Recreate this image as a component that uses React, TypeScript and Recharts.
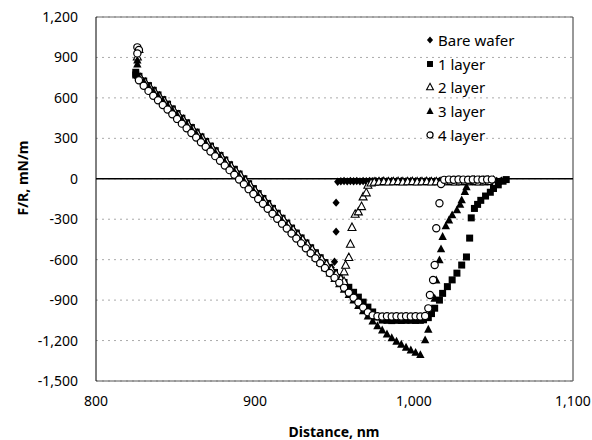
import React from 'react';
import { ScatterChart, Scatter, XAxis, YAxis, CartesianGrid, ReferenceLine, Legend } from 'recharts';

const xTicks = [800, 900, 1000, 1100];
const yTicks = [-1500, -1200, -900, -600, -300, 0, 300, 600, 900, 1200];
const seriesNames = ['Bare wafer', '1 layer', '2 layer', '3 layer', '4 layer'];

const bareWafer: [number, number][] = [
  [825,760],[828,745],[831,711],[834,676],[837,642],[840,607],[843,573],[846,538],[849,504],[852,469],[855,435],[858,400],[861,366],[864,331],[867,297],[870,262],[873,228],[876,193],[879,159],[882,124],[885,90],[888,55],[891,21],[894,-14],[897,-50],[900,-87],[903,-123],[906,-160],[909,-196],[912,-233],[915,-270],[918,-306],[921,-343],[924,-379],[927,-416],[930,-452],[933,-489],[936,-526],[939,-562],[942,-599],[945,-635],[948,-660],[950,-615],[951,-392],[951,-177],[952,-22],[954,-18],[956,-17],[958,-19],[960,-16],[962,-18],[964,-17],[966,-19],[968,-16],[970,-18],[972,-17],[974,-18],[976,-16],[978,-18],[980,-17],[983,-18],[986,-16],[989,-18],[992,-17],[995,-18],[998,-16],[1001,-18],[1004,-17],[1007,-18],[1010,-16],[1013,-18],[1016,-17],[1019,-18],[1022,-16],[1025,-17],[1028,-18],[1031,-16],[1034,-17],[1037,-18],[1040,-16],[1043,-17],[1046,-18],[1049,-16],[1052,-17],[1055,-15]
];

const layer1: [number, number][] = [
  [825,790],[825,770],[827,760],[830,725],[833,691],[836,656],[839,622],[842,587],[845,553],[848,518],[851,484],[854,449],[857,415],[860,380],[863,346],[866,311],[869,277],[872,242],[875,208],[878,173],[881,139],[884,104],[887,70],[890,35],[893,0],[896,-37],[899,-73],[902,-110],[905,-146],[908,-183],[911,-220],[914,-256],[917,-293],[920,-329],[923,-366],[926,-403],[929,-439],[932,-476],[935,-512],[938,-549],[941,-586],[944,-622],[947,-659],[950,-695],[953,-732],[956,-769],[959,-805],[962,-842],[965,-878],[968,-915],[971,-952],[974,-988],[977,-1025],[980,-1048],[983,-1050],[986,-1052],[989,-1050],[992,-1051],[995,-1050],[998,-1050],[1001,-1051],[1004,-1050],[1006,-1046],[1009,-1030],[1011,-1000],[1013,-960],[1016,-900],[1018,-850],[1021,-800],[1024,-750],[1027,-700],[1030,-640],[1033,-580],[1035,-440],[1036,-290],[1038,-220],[1040,-190],[1042,-160],[1045,-128],[1048,-100],[1050,-72],[1053,-45],[1056,-18],[1058,-6]
];

const layer2: [number, number][] = [
  [827,960],[826,905],[828,750],[831,716],[834,681],[837,647],[840,612],[843,578],[846,543],[849,509],[852,474],[855,440],[858,405],[861,371],[864,336],[867,302],[870,267],[873,233],[876,198],[879,164],[882,129],[885,95],[888,60],[891,26],[894,-11],[897,-47],[900,-84],[903,-120],[906,-157],[909,-194],[912,-230],[915,-267],[918,-303],[921,-340],[924,-377],[927,-413],[930,-450],[933,-486],[936,-523],[939,-560],[942,-596],[945,-633],[948,-669],[951,-706],[954,-742],[956,-760],[956,-689],[957,-640],[959,-583],[960,-484],[961,-360],[963,-262],[965,-244],[967,-205],[968,-133],[970,-103],[971,-46],[973,-30],[975,-24],[978,-22],[981,-20],[984,-22],[987,-21],[990,-20],[993,-22],[996,-21],[999,-20],[1002,-22],[1005,-21],[1008,-20],[1011,-22],[1014,-21],[1017,-20],[1020,-21],[1023,-20],[1026,-22],[1029,-21],[1032,-20],[1035,-21],[1038,-20],[1041,-22],[1044,-21],[1047,-20]
];

const layer3: [number, number][] = [
  [826,880],[826,850],[827,755],[830,720],[833,685],[836,650],[839,615],[842,580],[845,545],[848,510],[851,475],[854,440],[857,405],[860,370],[863,335],[866,300],[869,265],[872,230],[875,195],[878,160],[881,125],[884,90],[887,55],[890,20],[893,-15],[896,-52],[899,-89],[902,-126],[905,-163],[908,-200],[911,-238],[914,-276],[917,-314],[920,-352],[923,-390],[926,-428],[929,-466],[932,-505],[935,-544],[938,-583],[941,-622],[944,-661],[947,-700],[950,-740],[953,-780],[956,-820],[959,-860],[962,-900],[965,-940],[968,-980],[971,-1018],[974,-1055],[977,-1090],[980,-1122],[983,-1152],[986,-1180],[989,-1205],[992,-1228],[995,-1250],[998,-1270],[1001,-1288],[1004,-1305],[1007,-1195],[1009,-1116],[1013,-887],[1014,-751],[1016,-602],[1017,-520],[1018,-429],[1020,-350],[1022,-306],[1024,-268],[1027,-231],[1029,-190],[1030,-157],[1032,-95],[1033,-60],[1035,-12],[1038,-6],[1041,-5],[1044,-6],[1047,-5],[1050,-6]
];

const layer4: [number, number][] = [
  [826,975],[827,955],[826,930],[827,730],[830,690],[833,652],[836,616],[839,582],[842,547],[845,513],[848,478],[851,444],[854,409],[857,375],[860,340],[863,306],[866,271],[869,237],[872,202],[875,168],[878,133],[881,99],[884,64],[887,30],[890,-5],[893,-40],[896,-77],[899,-113],[902,-150],[905,-186],[908,-223],[911,-260],[914,-296],[917,-333],[920,-369],[923,-406],[926,-443],[929,-479],[932,-516],[935,-552],[938,-589],[941,-626],[944,-662],[947,-699],[950,-735],[953,-772],[956,-809],[959,-845],[962,-882],[965,-918],[968,-955],[971,-990],[974,-1012],[977,-1020],[980,-1022],[983,-1020],[986,-1021],[989,-1020],[992,-1022],[995,-1020],[998,-1021],[1001,-1020],[1004,-1021],[1007,-1018],[1009,-961],[1010,-862],[1012,-751],[1013,-640],[1014,-367],[1016,-182],[1017,-39],[1019,-8],[1022,-6],[1025,-7],[1028,-5],[1031,-6],[1034,-7],[1037,-5],[1040,-6],[1043,-7],[1046,-5],[1049,-6]
];

const toPts = (arr: [number, number][]) => arr.map(([x, y]) => ({ x, y }));

const FONT = '"Noto Sans", "DejaVu Sans", sans-serif';

function marker(kind: number, cx: number, cy: number, s = 1) {
  switch (kind) {
    case 0:
      return <polygon points={`${cx},${cy - 4.2 * s} ${cx + 3.6 * s},${cy} ${cx},${cy + 4.2 * s} ${cx - 3.6 * s},${cy}`} fill="#000" />;
    case 1:
      return <rect x={cx - 3.5 * s} y={cy - 3.5 * s} width={7 * s} height={7 * s} fill="#000" />;
    case 2:
      return <polygon points={`${cx},${cy - 4.3 * s} ${cx + 4 * s},${cy + 3.2 * s} ${cx - 4 * s},${cy + 3.2 * s}`} fill="#fff" stroke="#000" strokeWidth={1.1} />;
    case 3:
      return <polygon points={`${cx},${cy - 4.5 * s} ${cx + 4.2 * s},${cy + 3.4 * s} ${cx - 4.2 * s},${cy + 3.4 * s}`} fill="#000" />;
    default:
      return <circle cx={cx} cy={cy} r={3.6 * s} fill="#fff" stroke="#000" strokeWidth={1.2} />;
  }
}

const makeShape = (kind: number) => (props: any) => {
  const { cx, cy } = props;
  if (cx == null || cy == null) return <g />;
  return marker(kind, cx, cy);
};

const LegendBox = () => (
  <div style={{ fontFamily: FONT, fontSize: 15, color: '#000' }}>
    {seriesNames.map((n, i) => (
      <div key={n} style={{ display: 'flex', alignItems: 'center', height: 23.7 }}>
        <svg width={14} height={14} style={{ display: 'block' }}>{marker(i, 7, 7, 0.85)}</svg>
        <span style={{ marginLeft: 1, lineHeight: '20px' }}>{n}</span>
      </div>
    ))}
  </div>
);

const fmt = (v: number) => v.toLocaleString('en-US');

export default function App() {
  return (
    <div style={{ position: 'absolute', left: 0, top: 0, width: 592, height: 440, background: '#fff' }}>
      <ScatterChart width={592} height={440} margin={{ top: 17, right: 19, bottom: 29, left: 36 }}>
        <CartesianGrid vertical={false} stroke="#aaa" strokeDasharray="2 4" />
        <XAxis
          dataKey="x"
          type="number"
          domain={[800, 1100]}
          ticks={xTicks}
          tickFormatter={fmt}
          height={30}
          axisLine={{ stroke: '#555' }}
          tickLine={false}
          tickSize={0}
          tickMargin={15}
          tick={{ fill: '#000', fontSize: 14, fontFamily: FONT }}
          allowDataOverflow
          label={{
            content: () => (
              <text x={334} y={437} textAnchor="middle" fontFamily={FONT} fontSize={14} fontWeight="bold" fill="#000">
                Distance, nm
              </text>
            ),
          }}
        />
        <YAxis
          dataKey="y"
          type="number"
          domain={[-1500, 1200]}
          ticks={yTicks}
          tickFormatter={fmt}
          width={60}
          axisLine={{ stroke: '#000' }}
          tickLine={false}
          tickSize={0}
          tickMargin={18}
          tick={{ fill: '#000', fontSize: 14, fontFamily: FONT }}
          allowDataOverflow
          label={{
            content: () => (
              <text x={22} y={178} transform="rotate(-90 22 178)" textAnchor="middle" dominantBaseline="central" fontFamily={FONT} fontSize={14} fontWeight="bold" fill="#000">
                F/R, mN/m
              </text>
            ),
          }}
        />
        <ReferenceLine y={1200} stroke="#666" strokeWidth={1} ifOverflow="visible" />
        <ReferenceLine x={1100} stroke="#333" strokeWidth={1} ifOverflow="visible" />
        <ReferenceLine y={0} stroke="#000" strokeWidth={1.4} />
        <Legend
          layout="vertical"
          align="center"
          verticalAlign="middle"
          content={() => <LegendBox />}
          wrapperStyle={{ left: 423, top: 28, width: 120, height: 120 }}
        />
        <Scatter name="Bare wafer" data={toPts(bareWafer)} shape={makeShape(0)} isAnimationActive={false} />
        <Scatter name="1 layer" data={toPts(layer1)} shape={makeShape(1)} isAnimationActive={false} />
        <Scatter name="2 layer" data={toPts(layer2)} shape={makeShape(2)} isAnimationActive={false} />
        <Scatter name="3 layer" data={toPts(layer3)} shape={makeShape(3)} isAnimationActive={false} />
        <Scatter name="4 layer" data={toPts(layer4)} shape={makeShape(4)} isAnimationActive={false} />
      </ScatterChart>
    </div>
  );
}
